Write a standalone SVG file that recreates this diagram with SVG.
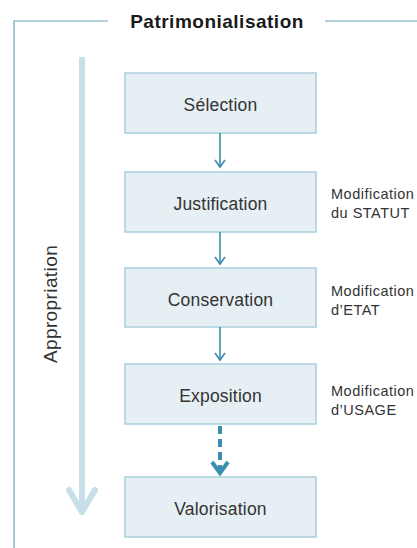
<svg xmlns="http://www.w3.org/2000/svg" width="417" height="548" viewBox="0 0 417 548">
  <style>
    .frame { fill: none; stroke: #6fa3bd; stroke-width: 1.2; }
    .box rect { fill: #e6eff4; stroke: #a9d0dd; stroke-width: 1.5; }
    .box text { font-family: "Liberation Sans", Arial, sans-serif; font-size: 17.5px; letter-spacing: 0.2px; fill: #333333; text-anchor: middle; }
    .note { font-family: "Liberation Sans", Arial, sans-serif; font-size: 14.5px; letter-spacing: 0.5px; fill: #333333; }
    .title { font-family: "Liberation Sans", Arial, sans-serif; font-size: 19px; font-weight: bold; letter-spacing: 0.5px; fill: #1a1a1a; text-anchor: middle; }
    .side { font-family: "Liberation Sans", Arial, sans-serif; font-size: 19px; letter-spacing: 0.4px; fill: #333333; text-anchor: middle; }
    .link { stroke: #3b8db2; stroke-width: 1.6; fill: none; }
    .link-dash { stroke: #3b8db2; stroke-width: 4; stroke-dasharray: 8 5; fill: none; }
  </style>

  <!-- outer frame with title gap -->
  <path class="frame" d="M108 21 H14 V548 M325 21 H417"/>
  <text class="title" x="217" y="28">Patrimonialisation</text>

  <!-- appropriation axis -->
  <g id="appropriation">
    <line x1="82" y1="57" x2="82" y2="512" stroke="#c6dfe8" stroke-width="6"/>
    <polyline points="69,490 82,512 95,490" fill="none" stroke="#c6dfe8" stroke-width="6" stroke-linejoin="round" stroke-linecap="round"/>
    <text class="side" transform="translate(57,304) rotate(-90)">Appropriation</text>
  </g>

  <!-- process steps -->
  <g id="selection" class="box">
    <rect x="125" y="73" width="191" height="60"/>
    <text x="220.5" y="111">Sélection</text>
  </g>
  <g id="justification" class="box">
    <rect x="125" y="172" width="191" height="60"/>
    <text x="220.5" y="210">Justification</text>
  </g>
  <g id="conservation" class="box">
    <rect x="125" y="268" width="191" height="59"/>
    <text x="220.5" y="306">Conservation</text>
  </g>
  <g id="exposition" class="box">
    <rect x="125" y="364" width="191" height="60"/>
    <text x="220.5" y="402">Exposition</text>
  </g>
  <g id="valorisation" class="box">
    <rect x="125" y="477" width="191" height="60"/>
    <text x="220.5" y="515">Valorisation</text>
  </g>

  <!-- side notes -->
  <g id="note-statut">
    <text class="note" x="331" y="199">Modification</text>
    <text class="note" x="331" y="218">du STATUT</text>
  </g>
  <g id="note-etat">
    <text class="note" x="331" y="296">Modification</text>
    <text class="note" x="331" y="315">d’ETAT</text>
  </g>
  <g id="note-usage">
    <text class="note" x="331" y="396">Modification</text>
    <text class="note" x="331" y="415">d’USAGE</text>
  </g>

  <!-- connectors -->
  <g id="connectors">
    <line class="link" x1="220" y1="133" x2="220" y2="167"/>
    <polyline class="link" points="215,160 220,167 225,160"/>
    <line class="link" x1="220" y1="232" x2="220" y2="264"/>
    <polyline class="link" points="215,257 220,264 225,257"/>
    <line class="link" x1="220" y1="327" x2="220" y2="360"/>
    <polyline class="link" points="215,353 220,360 225,353"/>
    <line class="link-dash" x1="220" y1="426" x2="220" y2="470"/>
    <polyline points="212,462 220,473 228,462" fill="none" stroke="#3b8db2" stroke-width="4"/>
  </g>
</svg>
